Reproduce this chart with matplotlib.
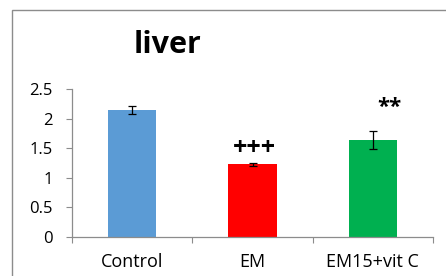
import matplotlib.pyplot as plt
import numpy as np
from matplotlib.patches import Rectangle

groups = ['Control', 'EM', 'EM15+vit C']
values = [2.15, 1.23, 1.64]
errors = [0.07, 0.03, 0.15]
marks = ['', '+++', '**']
mark_y = [0, 1.49, 2.19]
bar_colors = ['#5B9BD5', '#FF0000', '#00B050']
yticks = [0, 0.5, 1, 1.5, 2, 2.5]
ytick_labels = ['0', '0.5', '1', '1.5', '2', '2.5']

plt.rcParams['font.family'] = ['Open Sans', 'DejaVu Sans']

fig = plt.figure(figsize=(4.46, 2.76), dpi=100)
ax = fig.add_axes([72/446, 39/276, 361/446, 147.7/276])

# outer chart frame
fig.patches.append(Rectangle((11.5/446, -0.2), 1.2, (276 - 9.5)/276 + 0.2,
                             transform=fig.transFigure, fill=False,
                             edgecolor='#8c8c8c', linewidth=1.0))

x = np.arange(len(groups))
ax.bar(x, values, width=0.4, color=bar_colors, edgecolor='none', zorder=2)
ax.errorbar(x, values, yerr=errors, fmt='none', ecolor='black',
            elinewidth=0.9, capsize=2.6, capthick=0.9, zorder=3)

offsets = [0, 0.02, 0.14]
for i, m in enumerate(marks):
    if m:
        ax.text(x[i] + offsets[i], mark_y[i], m, ha='center', va='center',
                fontsize=18 if m == '+++' else 16, fontweight='bold', color='black')

ax.set_xlim(-0.5, 2.5)
ax.set_ylim(0, 2.5)

ax.set_yticks(yticks)
ax.set_yticklabels(ytick_labels, fontsize=12)
ax.set_xticks([-0.5, 0.5, 1.5, 2.5])
ax.set_xticklabels([])
ax.set_xticks(x, minor=True)
ax.set_xticklabels(groups, minor=True, fontsize=13)
ax.tick_params(axis='x', which='major', direction='out', length=4.5, color='#8c8c8c')
ax.tick_params(axis='x', which='minor', length=0, pad=11.5)
ax.tick_params(axis='y', direction='out', length=4, color='#8c8c8c', pad=10)

for s in ['top', 'right']:
    ax.spines[s].set_visible(False)
for s in ['left', 'bottom']:
    ax.spines[s].set_color('#8c8c8c')
    ax.spines[s].set_linewidth(0.9)

fig.text(168/446, 1 - 45/276, 'liver', ha='center', va='center',
         fontsize=22, fontweight='bold')

fig.savefig('out.png', dpi=100)
